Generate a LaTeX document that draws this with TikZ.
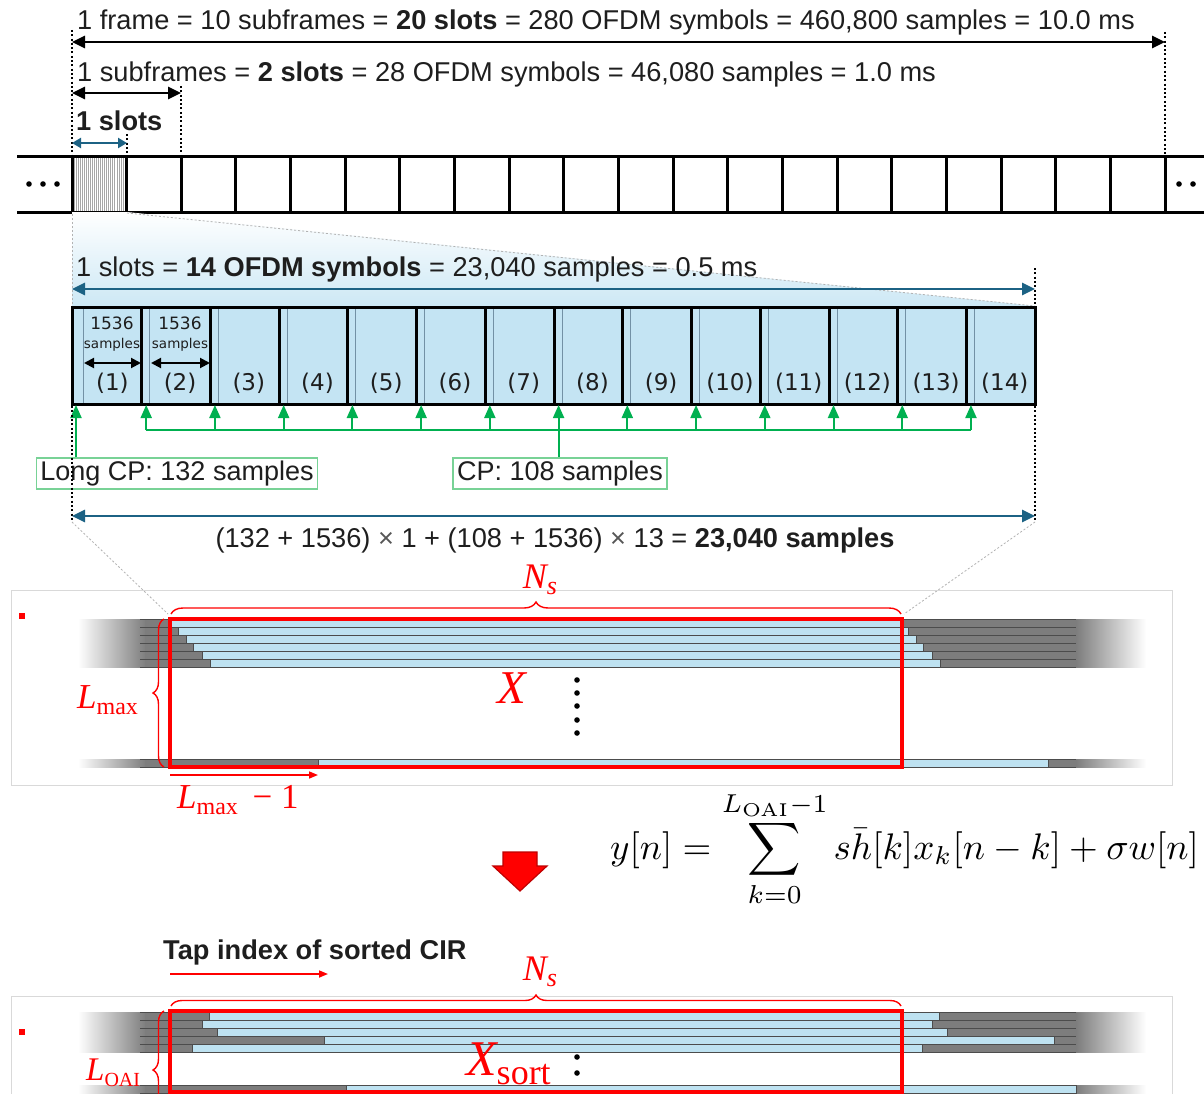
\documentclass[tikz,border=0pt]{standalone}
\usepackage{graphicx}
\usepackage[no-math]{fontspec}
\setmainfont{Liberation Sans}
\newfontfamily\dvs{DejaVu Sans}
\newfontfamily\lsf{Liberation Serif}
\usetikzlibrary{arrows.meta,decorations.pathreplacing,calc}
\definecolor{txtc}{RGB}{30,30,30}
\definecolor{tealc}{RGB}{28,98,132}
\definecolor{symblue}{RGB}{196,228,243}
\definecolor{cirblue}{RGB}{190,226,241}
\definecolor{cirgray}{RGB}{125,125,125}
\definecolor{greenc}{RGB}{0,176,80}
\definecolor{greenbox}{RGB}{120,210,150}
\definecolor{redc}{RGB}{255,0,0}
\definecolor{darkred}{RGB}{190,0,0}
\definecolor{cpc}{RGB}{115,145,165}
\tikzset{
  txt/.style={inner sep=0pt, text=txtc, font=\fontsize{27.2}{32}\selectfont},
  darr/.style={{Triangle[length=13pt,width=12pt]}-{Triangle[length=13pt,width=12pt]}, line width=2.6pt},
  blackdim/.style={darr, draw=black},
  tealdim/.style={darr, draw=tealc, color=tealc},
  dotv/.style={line width=2.2pt, dash pattern=on 2pt off 2.3pt, draw=black},
  zoomline/.style={draw=gray!60, line width=0.8pt, dash pattern=on 2pt off 2pt},
  barline/.style={line width=3pt, draw=black},
  symlab/.style={inner sep=0pt, text=txtc, font=\dvs\fontsize{23}{26}\selectfont, anchor=base},
  cpline/.style={draw=cpc, line width=0.8pt},
  garr/.style={-{Triangle[length=13pt,width=11pt]}, draw=greenc, line width=2pt},
  gline/.style={draw=greenc, line width=2pt},
  gbox/.style={draw=greenbox, line width=1.5pt, fill=white, inner xsep=4pt, inner ysep=0pt, minimum height=31pt, text=txtc, font=\fontsize{27}{32}\selectfont},
  cirline/.style={draw=black!70, line width=0.9pt},
  redbox/.style={draw=redc, line width=3.5pt, inner sep=0pt},
  rbrace/.style={draw=redc, line width=1.4pt, decorate},
  redlab/.style={inner sep=0pt, text=redc, anchor=base west},
  redarr/.style={-{Triangle[length=9pt,width=7pt]}, draw=redc, line width=1.6pt},
  frame/.style={draw=gray!30, line width=1pt},
}
\newcommand{\cirrow}[2]{%
  \shade[left color=white, right color=cirgray] (78,#1) rectangle (146,#1+8);
  \fill[cirgray] (145,#1) rectangle (1077,#1+8);
  \shade[left color=cirgray, right color=white] (1076,#1) rectangle (1146,#1+8);
  \draw[cirline] (140,#1) -- (1076,#1);
  \draw[cirline] (140,#1+8) -- (1076,#1+8);
  \draw[cirline, fill=cirblue] (#2,#1) rectangle (#2+730,#1+8);
}
\begin{document}
\begin{tikzpicture}[x=1pt,y=-1pt]
\useasboundingbox (0,0) rectangle (1204,1094);
\clip (0,0) rectangle (1204,1094);
\fill[white] (0,0) rectangle (1204,1094);

% ---------------- top: frame / subframe / slot ----------------
\node[txt, anchor=base west] (t1) at (77,29.5) {1 frame = 10 subframes = \textbf{20 slots} = 280 OFDM symbols = 460,800 samples = 10.0 ms};
\node[txt, anchor=base west] (t2) at (77,81.5) {1 subframes = \textbf{2 slots} = 28 OFDM symbols = 46,080 samples = 1.0 ms};
\node[txt, anchor=base west] (t3) at (76,130.5) {\textbf{1 slots}};

\draw[dotv] (72,30) -- (72,157);
\draw[dotv] (1165,32) -- (1165,157);
\draw[dotv] (181,86) -- (181,157);
\draw[dotv] (127,134) -- (127,157);

\coordinate (fL) at (72,42); \coordinate (fR) at (1165,42);
\draw[blackdim] (fL) -- (fR);
\coordinate (sfL) at (72,93); \coordinate (sfR) at (181,93);
\draw[blackdim] (sfL) -- (sfR);
\coordinate (slL) at (72,143); \coordinate (slR) at (127,143);
\draw[tealdim, line width=2.4pt, {Triangle[length=9pt,width=10pt]}-{Triangle[length=9pt,width=10pt]}] (slL) -- (slR);

% hatching of first slot
\foreach \i in {1,...,26}{
  \draw[gray!70, line width=0.6pt] ({72+\i*55/27},157) -- ({72+\i*55/27},212);
}
% slot bar
\draw[barline] (17,157) -- (1204,157);
\draw[barline] (17,212) -- (1204,212);
\foreach \i in {0,...,20}{
  \draw[barline] ({72+54.65*\i},157) -- ({72+54.65*\i},212);
}
\foreach \xx in {29,43,57,1179,1193,1207}{
  \fill[black] (\xx,184) circle (2.8);
}

% ---------------- zoom into one slot ----------------
\shade[top color=white, bottom color=symblue!85] (72,212) -- (127,212) -- (1035,306) -- (72,306) -- cycle;
\draw[zoomline] (72,214) -- (72,306);
\draw[zoomline] (127,213) -- (1035,306);

\node[txt, anchor=base west] (t4) at (76,276.5) {1 slots = \textbf{14 OFDM symbols} = 23,040 samples = 0.5 ms};
\draw[dotv] (1035,268) -- (1035,307);
\coordinate (sL) at (72,289); \coordinate (sR) at (1035,289);
\draw[tealdim] (sL) -- (sR);

% OFDM symbols
\fill[symblue] (72,307) rectangle (1035,404);
\foreach \k in {1,...,14}{
  \pgfmathsetmacro\R{141.7+68.73*(\k-1)}
  \pgfmathsetmacro\Lb{\k==1 ? 72 : 141.7+68.73*(\k-2)}
  \pgfmathsetmacro\cp{\k==1 ? 83 : \Lb+8}
  \draw[cpline] (\cp,307) -- (\cp,404);
  \node[symlab] (s\k) at ({(\cp+\R)/2},390) {(\k)};
}
\foreach \k in {1,...,13}{
  \draw[barline] ({141.7+68.73*(\k-1)},307) -- ({141.7+68.73*(\k-1)},404);
}
\draw[barline] (72,307) rectangle (1035,404);

\node[symlab, font=\dvs\fontsize{17}{20}\selectfont] (n1) at (112,329) {1536};
\node[symlab, font=\dvs\fontsize{13.5}{16}\selectfont] (m1) at (112,348) {samples};
\node[symlab, font=\dvs\fontsize{17}{20}\selectfont] (n2) at (180,329) {1536};
\node[symlab, font=\dvs\fontsize{13.5}{16}\selectfont] (m2) at (180,348) {samples};
\coordinate (a1L) at (84,363); \coordinate (a1R) at (141,363);
\coordinate (a2L) at (151,363); \coordinate (a2R) at (210,363);
\draw[{Triangle[length=10pt,width=10pt]}-{Triangle[length=10pt,width=10pt]}, line width=2pt] (a1L) -- (a1R);
\draw[{Triangle[length=10pt,width=10pt]}-{Triangle[length=10pt,width=10pt]}, line width=2pt] (a2L) -- (a2R);

% CP arrows
\node[gbox] (lcp) at (177,473.5) {Long CP: 132 samples};
\node[gbox] (cpb) at (560,473.5) {CP: 108 samples};
\foreach \k in {1,...,13}{
  \coordinate (g\k) at ({141.7+68.73*(\k-1)+4.5},430);
  \coordinate (gt\k) at ({141.7+68.73*(\k-1)+4.5},405);
  \draw[garr] (g\k) -- (gt\k);
}
\draw[gline] (g1) -- (g13);
\coordinate (gm) at ($(g1)!0.5!(g13)$);
\draw[gline] (gm) -- (cpb.north -| gm);
\coordinate (lg) at (76,405);
\draw[garr] (lcp.north -| lg) -- (lg);

\draw[dotv] (72,406) -- (72,522);
\draw[dotv] (1035,406) -- (1035,522);
\coordinate (tL) at (72,516); \coordinate (tR) at (1035,516);
\draw[tealdim] (tL) -- (tR);
\node[txt, anchor=base] (t5) at (555,547.5) {(132 + 1536) {\color{txtc!75}×} 1 + (108 + 1536) {\color{txtc!75}×} 13 = \textbf{23,040 samples}};

\draw[zoomline] (72,522) -- (168,614);
\draw[zoomline] (1035,522) -- (904,614);

% ---------------- CIR matrix X ----------------
\draw[frame] (11,590) rectangle (1172,785);
\fill[redc] (19,613) rectangle (25,619);
\foreach \yy/\bs in {619/170, 627/178, 635/186, 643/193, 651/202, 659/210, 759/318}{
  \cirrow{\yy}{\bs}
}
\node[redbox, minimum width=732pt, minimum height=148pt] (X1) at (536,693) {};
\coordinate (b1w) at (171,614); \coordinate (b1e) at (901,614);
\draw[rbrace, decoration={brace, amplitude=12pt}] (b1w) -- (b1e);
\node[redlab, anchor=base] (ns1) at (540,588) {\lsf\fontsize{36}{40}\selectfont\itshape N\raisebox{-6pt}{\fontsize{26}{30}\selectfont s}};
\coordinate (l1b) at (164,767); \coordinate (l1t) at (164,619);
\draw[rbrace, decoration={brace, amplitude=11pt}] (l1b) -- (l1t);
\node[redlab] (lmax) at (77,708) {\lsf\fontsize{35}{40}\selectfont\itshape L\upshape\raisebox{-6pt}{\fontsize{24}{30}\selectfont max}};
\coordinate (r1a) at (170,775); \coordinate (r1b) at (318,775);
\draw[redarr] (r1a) -- (r1b);
\node[redlab] (lm1) at (177,808) {\lsf\fontsize{35}{40}\selectfont\itshape L\upshape\raisebox{-6pt}{\fontsize{24}{30}\selectfont max}\, − 1};
\node[redlab, anchor=base] (xl) at (512,703) {\lsf\fontsize{47}{50}\selectfont\itshape X};
\foreach \yy in {680,693,706,720,733}{
  \fill[black] (577,\yy) circle (2.8);
}

% ---------------- equation and arrow ----------------
\draw[fill=redc, draw=darkred, line width=1.2pt] (503,852) -- (537,852) -- (537,866) -- (547,866) -- (520,891) -- (493,866) -- (503,866) -- cycle;
\node[inner sep=0pt, anchor=base west] (eq) at (610,859)
  {\scalebox{3.7}{$\displaystyle y[n] = \sum_{k=0}^{L_{\mathrm{OAI}}-1} s\bar{h}[k]x_k[n-k]+\sigma w[n]$}};

% ---------------- sorted CIR ----------------
\node[txt, anchor=base west] (tap) at (163,959.5) {\textbf{Tap index of sorted CIR}};
\coordinate (r2a) at (170,974); \coordinate (r2b) at (328,974);
\draw[redarr] (r2a) -- (r2b);
\draw[frame] (11,996) rectangle (1172,1120);
\fill[redc] (19,1029) rectangle (25,1035);
\foreach \yy/\bs in {1012/209, 1020/202, 1028/217, 1036/324, 1044/192, 1085/346}{
  \cirrow{\yy}{\bs}
}
\node[redbox, minimum width=732pt, minimum height=81pt] (X2) at (536,1051.5) {};
\coordinate (b2w) at (171,1006); \coordinate (b2e) at (901,1006);
\draw[rbrace, decoration={brace, amplitude=11pt}] (b2w) -- (b2e);
\node[redlab, anchor=base] (ns2) at (540,980) {\lsf\fontsize{36}{40}\selectfont\itshape N\raisebox{-6pt}{\fontsize{26}{30}\selectfont s}};
\coordinate (l2b) at (164,1129); \coordinate (l2t) at (164,1011);
\draw[rbrace, decoration={brace, amplitude=11pt}] (l2b) -- (l2t);
\node[redlab] (loai) at (86,1080) {\lsf\fontsize{33}{40}\selectfont\itshape L\upshape\raisebox{-6pt}{\fontsize{20}{28}\selectfont OAI}};
\node[redlab] (xs) at (466,1075) {\lsf\fontsize{50}{56}\selectfont\itshape X\upshape\raisebox{-9pt}{\fontsize{36}{40}\selectfont sort}};
\fill[black] (577,1057) circle (2.8);
\fill[black] (577,1073) circle (2.8);
\end{tikzpicture}
\end{document}
